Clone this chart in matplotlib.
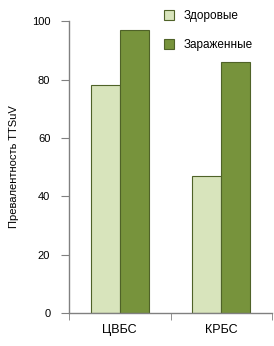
import numpy as np
import matplotlib
matplotlib.use('Agg')
import matplotlib.pyplot as plt

plt.rcParams['font.family'] = ['Liberation Sans', 'DejaVu Sans']

categories = ['ЦВБС', 'КРБС']
healthy = [78, 47]
infected = [97, 86]
series_names = ['Здоровые', 'Зараженные']
y_ticks = [0, 20, 40, 60, 80, 100]

light = '#d8e4bc'
dark = '#77933c'
edge = '#4f6228'
axis_gray = '#808080'

fig = plt.figure(figsize=(2.74, 3.46), dpi=100)
ax = fig.add_axes([0.252, 0.095, 0.741, 0.844])

x = np.arange(len(categories))
w = 0.285
ax.bar(x - w / 2, healthy, w, color=light, edgecolor=edge, linewidth=0.8, label=series_names[0])
ax.bar(x + w / 2, infected, w, color=dark, edgecolor=edge, linewidth=0.8, label=series_names[1])

ax.set_xlim(-0.5, len(categories) - 0.5)
ax.set_ylim(0, 100)
ax.set_yticks(y_ticks)
ax.set_xticks(x)
ax.set_xticklabels(categories, fontsize=9)
ax.tick_params(axis='x', length=0, pad=8)
ax.set_xticks(np.arange(len(categories) + 1) - 0.5, minor=True)
ax.tick_params(axis='x', which='minor', length=5, color=axis_gray, direction='out')
ax.tick_params(axis='y', length=6, color=axis_gray, labelsize=8, pad=7.5)

for side in ['top', 'right']:
    ax.spines[side].set_visible(False)
for side in ['left', 'bottom']:
    ax.spines[side].set_color(axis_gray)
    ax.spines[side].set_linewidth(1)

ax.set_ylabel('Превалентность TTSuV', fontsize=8, labelpad=9)

leg = fig.legend(loc='upper left', bbox_to_anchor=(164 / 274, 1 - 10 / 346), frameon=False,
                 fontsize=8.5, handlelength=0.85, handleheight=0.85, labelspacing=1.45,
                 handletextpad=0.85, borderpad=0, borderaxespad=0)

fig.savefig('out.png', dpi=100)
